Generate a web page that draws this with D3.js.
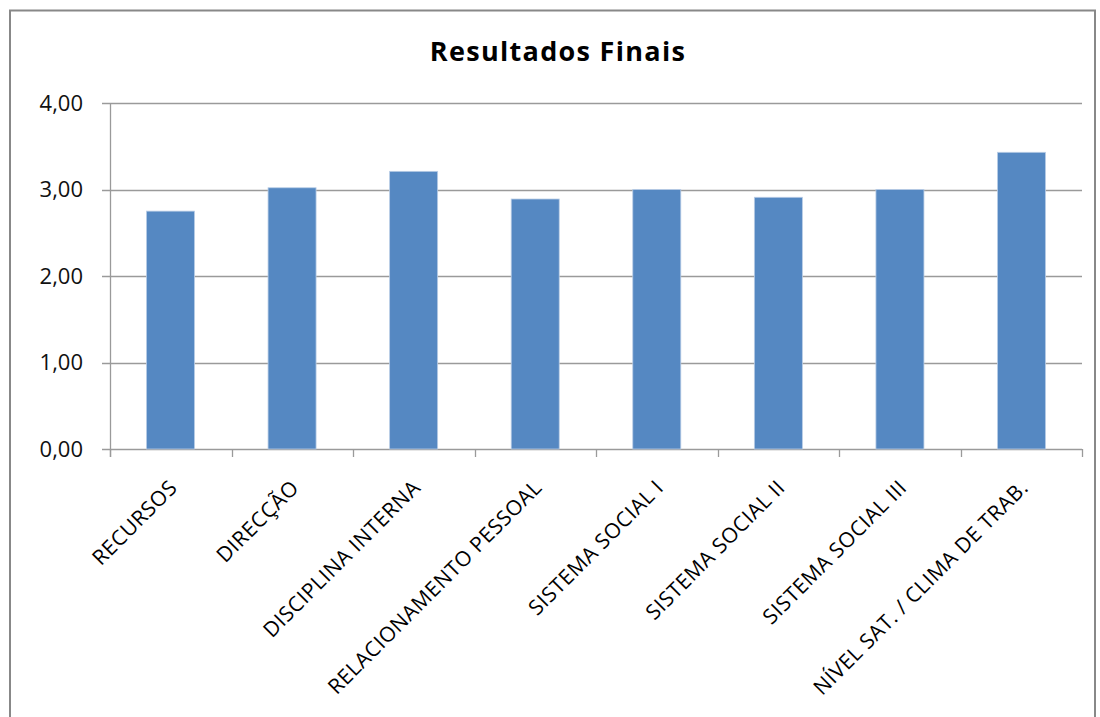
<!DOCTYPE html>
<html>
<head>
<meta charset="utf-8">
<script src="https://cdn.jsdelivr.net/npm/d3@7"></script>
<style>
  body { margin: 0; background: #fff; }
  svg { display: block; font-family: "Open Sans", Lato, sans-serif; }
</style>
</head>
<body>
<div id="chart"></div>
<script>
'use strict';

var categories = ['RECURSOS', 'DIRECÇÃO', 'DISCIPLINA INTERNA', 'RELACIONAMENTO PESSOAL',
  'SISTEMA SOCIAL I', 'SISTEMA SOCIAL II', 'SISTEMA SOCIAL III', 'NÍVEL SAT. / CLIMA DE TRAB.'];
var values = [2.75, 3.02, 3.21, 2.89, 3.00, 2.91, 3.00, 3.43];
var yTicks = [0, 1, 2, 3, 4];
var title = 'Resultados Finais';

var W = 1100, H = 717;
var margin = {top: 103, left: 110, right: 18, bottom: 268};
var cw = W - margin.left - margin.right;
var ch = H - margin.top - margin.bottom;

var svg = d3.select('#chart').append('svg')
  .attr('width', W)
  .attr('height', H);

// outer chart frame
svg.append('rect')
  .attr('x', 10).attr('y', 10.5)
  .attr('width', 1085).attr('height', 720)
  .attr('fill', '#fff')
  .attr('stroke', '#888')
  .attr('stroke-width', 2);

svg.append('text')
  .attr('x', 558).attr('y', 61)
  .attr('text-anchor', 'middle')
  .style('font-size', '27px')
  .style('font-weight', 'bold')
  .style('letter-spacing', '1.3px')
  .text(title);

var g = svg.append('g')
  .attr('transform', 'translate(' + margin.left + ',' + margin.top + ')');

var x = d3.scaleBand().domain(categories).range([0, cw]).paddingInner(0.605).paddingOuter(0.3);
var y = d3.scaleLinear().domain([0, 4]).range([ch, 0]);

// gridlines
g.append('g')
  .selectAll('line')
  .data(yTicks)
  .enter().append('line')
  .attr('x1', -8).attr('x2', cw)
  .attr('y1', function(d){ return Math.round(y(d)) + 0.5; })
  .attr('y2', function(d){ return Math.round(y(d)) + 0.5; })
  .attr('stroke', '#9a9a9a')
  .attr('stroke-width', 1.3);

g.append('g')
  .selectAll('text')
  .data(yTicks)
  .enter().append('text')
  .attr('x', -27)
  .attr('y', function(d){ return y(d); })
  .attr('dy', '0.36em')
  .attr('text-anchor', 'end')
  .style('font-size', '22px')
  .attr('fill', '#111')
  .text(function(d){ return d3.format('.2f')(d).replace('.', ','); });

// bars
g.selectAll('rect.bar')
  .data(values)
  .enter().append('rect')
  .attr('class', 'bar')
  .attr('x', function(d, i){ return x(categories[i]); })
  .attr('y', function(d){ return y(d); })
  .attr('width', x.bandwidth())
  .attr('height', function(d){ return ch - y(d); })
  .attr('fill', '#5588c2')
  .attr('stroke', '#b9cde6')
  .attr('stroke-width', 0.8);

// axes lines
g.append('line')
  .attr('x1', 0.5).attr('x2', 0.5).attr('y1', 0).attr('y2', ch + 8)
  .attr('stroke', '#9a9a9a').attr('stroke-width', 1.3);

var step = cw / categories.length;
g.append('g')
  .selectAll('line')
  .data(d3.range(categories.length + 1))
  .enter().append('line')
  .attr('x1', function(d){ return Math.round(d * step) + 0.5; })
  .attr('x2', function(d){ return Math.round(d * step) + 0.5; })
  .attr('y1', ch).attr('y2', ch + 8)
  .attr('stroke', '#9a9a9a').attr('stroke-width', 1.3);

// rotated category labels
g.append('g')
  .selectAll('text')
  .data(categories)
  .enter().append('text')
  .attr('transform', function(d){
    var cx = x(d) + x.bandwidth() / 2 + 8;
    return 'translate(' + cx + ',' + (ch + 40) + ') rotate(-45)';
  })
  .attr('text-anchor', 'end')
  .style('font-size', '21px')
  .style('letter-spacing', '0.5px')
  .attr('fill', '#000')
  .text(function(d){ return d; });
</script>
</body>
</html>
